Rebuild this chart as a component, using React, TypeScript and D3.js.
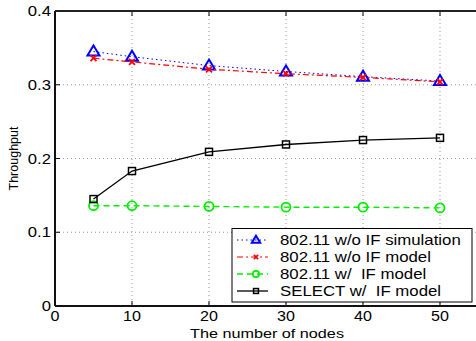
import * as d3 from "d3";

// number of nodes
const nodes = [5, 10, 20, 30, 40, 50];
const woIfSim = [0.345, 0.338, 0.326, 0.318, 0.311, 0.305];
const woIfModel = [0.336, 0.331, 0.321, 0.315, 0.31, 0.304];
const wIfModel = [0.136, 0.136, 0.135, 0.134, 0.134, 0.133];
const selectModel = [0.145, 0.183, 0.209, 0.219, 0.225, 0.228];

const xTicks = [0, 10, 20, 30, 40, 50];
const yTicks = [0, 0.1, 0.2, 0.3, 0.4];
const yTickLabels = ["0", "0.1", "0.2", "0.3", "0.4"];

const legendLabels = [
  "802.11 w/o IF simulation",
  "802.11 w/o IF model",
  "802.11 w/  IF model",
  "SELECT w/  IF model",
];

const W = 476;
const H = 341;
const margin = { left: 55, top: 11, bottom: 35 };
const plotRight = 517;
const FONT = "Liberation Sans, Arial, Helvetica, sans-serif";

type Series = {
  values: number[];
  color: string;
  dash: string;
  marker: "tri" | "x" | "circle" | "square";
  width: number;
};

const series: Series[] = [
  { values: woIfSim, color: "#0000ff", dash: "1.5,3", marker: "tri", width: 1 },
  { values: woIfModel, color: "#ff0000", dash: "6,3,2,3", marker: "x", width: 1.2 },
  { values: wIfModel, color: "#00ee00", dash: "6,4", marker: "circle", width: 1.4 },
  { values: selectModel, color: "#000000", dash: "", marker: "square", width: 1.3 },
];

function Marker({ kind, x, y, color, k = 1 }: { kind: Series["marker"]; x: number; y: number; color: string; k?: number }) {
  if (kind === "tri") {
    return (
      <path
        d={`M${x},${y - 6 * k} L${x + 6 * k},${y + 4 * k} L${x - 6 * k},${y + 4 * k} Z`}
        fill="none"
        stroke={color}
        strokeWidth={2}
      />
    );
  }
  if (kind === "x") {
    return (
      <path
        d={`M${x - 3 * k},${y - 3 * k} L${x + 3 * k},${y + 3 * k} M${x - 3 * k},${y + 3 * k} L${x + 3 * k},${y - 3 * k}`}
        stroke={color}
        strokeWidth={1.8}
      />
    );
  }
  if (kind === "circle") {
    return <circle cx={x} cy={y} r={4.5 * k} fill="none" stroke={color} strokeWidth={1.8} />;
  }
  return (
    <rect x={x - 3.5 * k} y={y - 3.5 * k} width={7 * k} height={7 * k} fill="none" stroke={color} strokeWidth={1.5} />
  );
}

export default function App() {
  const x = d3.scaleLinear().domain([0, 60]).range([margin.left, plotRight]);
  const y = d3.scaleLinear().domain([0, 0.4]).range([H - margin.bottom, margin.top]);
  const line = d3
    .line<number>()
    .x((_, i) => x(nodes[i]))
    .y((d) => y(d));

  const yBottom = y(0);
  const yTop = y(0.4);

  // legend layout
  const lg = { x: 232, y: 228.5, w: 240, h: 73.5 };
  const rowY = (i: number) => lg.y + 11.5 + i * 17;

  return (
    <svg
      width={W}
      height={H}
      style={{ position: "fixed", left: 0, top: 0, background: "#fff" }}
      fontFamily={FONT}
    >
      <rect width={W} height={H} fill="#fff" />
      {/* grid */}
      {xTicks.slice(1).map((t) => (
        <line key={"gx" + t} x1={x(t)} x2={x(t)} y1={yTop} y2={yBottom} stroke="#999" strokeDasharray="1,3" />
      ))}
      {yTicks.slice(1, -1).map((t) => (
        <line key={"gy" + t} x1={x(0)} x2={W} y1={y(t)} y2={y(t)} stroke="#999" strokeDasharray="1,3" />
      ))}
      {/* tick marks */}
      {xTicks.map((t) => (
        <g key={"tx" + t}>
          <line x1={x(t)} x2={x(t)} y1={yBottom} y2={yBottom - 5} stroke="#000" />
          <line x1={x(t)} x2={x(t)} y1={yTop} y2={yTop + 5} stroke="#000" />
        </g>
      ))}
      {yTicks.map((t) => (
        <line key={"ty" + t} x1={x(0)} x2={x(0) + 5} y1={y(t)} y2={y(t)} stroke="#000" />
      ))}
      {/* series */}
      {series.map((s, si) => (
        <g key={"s" + si}>
          <path d={line(s.values) || ""} fill="none" stroke={s.color} strokeWidth={s.width} strokeDasharray={s.dash} />
          {s.values.map((v, i) => (
            <Marker key={i} kind={s.marker} x={x(nodes[i])} y={y(v)} color={s.color} />
          ))}
        </g>
      ))}
      {/* frame */}
      <line x1={x(0)} x2={W} y1={yTop} y2={yTop} stroke="#222" strokeWidth={2} />
      <line x1={x(0)} x2={W} y1={yBottom} y2={yBottom} stroke="#111" strokeWidth={2} />
      <line x1={x(0)} x2={x(0)} y1={yTop} y2={yBottom} stroke="#111" strokeWidth={2} />
      {/* tick labels */}
      {yTicks.map((t, i) => (
        <text
          key={"yl" + t}
          transform={`translate(51,${y(t) + 5}) scale(1.15,1)`}
          textAnchor="end"
          fontSize={14.5}
        >
          {yTickLabels[i]}
        </text>
      ))}
      {xTicks.map((t) => (
        <text
          key={"xl" + t}
          transform={`translate(${x(t)},${yBottom + 15}) scale(1.15,1)`}
          textAnchor="middle"
          fontSize={14}
        >
          {t}
        </text>
      ))}
      <text transform={`translate(267,${H - 3}) scale(1.2,1)`} textAnchor="middle" fontSize={13.5}>
        The number of nodes
      </text>
      <text transform={`translate(18,${(yTop + yBottom) / 2}) rotate(-90)`} textAnchor="middle" fontSize={12.5}>
        Throughput
      </text>
      {/* legend */}
      <rect x={lg.x} y={lg.y} width={lg.w} height={lg.h} fill="#fff" stroke="#000" strokeWidth={1} />
      {series.map((s, i) => (
        <g key={"lg" + i}>
          <line
            x1={lg.x + 5}
            x2={lg.x + 36}
            y1={rowY(i)}
            y2={rowY(i)}
            stroke={s.color}
            strokeWidth={s.width}
            strokeDasharray={s.dash}
          />
          <Marker kind={s.marker} x={lg.x + 24} y={rowY(i)} color={s.color} k={0.7} />
          <text
            transform={`translate(${lg.x + 48},${rowY(i) + 5}) scale(1.2,1)`}
            fontSize={14}
            style={{ whiteSpace: "pre" }}
          >
            {legendLabels[i]}
          </text>
        </g>
      ))}
    </svg>
  );
}
